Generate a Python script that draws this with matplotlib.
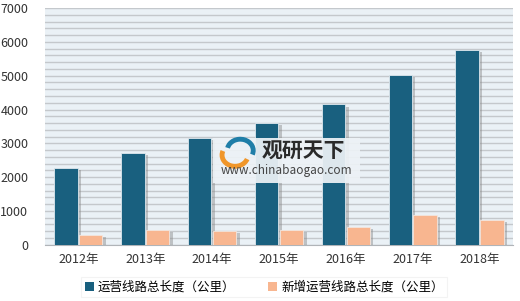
import matplotlib.pyplot as plt
import matplotlib.patheffects as pe
from matplotlib.patches import Arc, Rectangle
import numpy as np

plt.rcParams['font.family'] = ['Noto Sans CJK SC', 'DejaVu Sans']

years = ['2012年', '2013年', '2014年', '2015年', '2016年', '2017年', '2018年']
total_km = [2260, 2720, 3170, 3610, 4150, 5030, 5760]
new_km = [290, 445, 420, 440, 530, 870, 730]
labels = ['运营线路总长度（公里）', '新增运营线路总长度（公里）']

blue = '#19607f'
orange = '#f8b690'

fig = plt.figure(figsize=(5.2, 3.01), dpi=100)
ax = fig.add_axes([0.0865, 0.187, 0.9, 0.786])
ax.set_facecolor('#eaf1f6')

x = np.arange(len(years))
w = 0.35
shadow = [pe.SimplePatchShadow(offset=(2.5, -1.5), shadow_rgbFace='#888888', alpha=0.45), pe.Normal()]
b1 = ax.bar(x - w / 2 - 0.01, total_km, w, color=blue, edgecolor='#dfe8ee', linewidth=0.6,
            label=labels[0], zorder=3)
b2 = ax.bar(x + w / 2 + 0.01, new_km, w, color=orange, edgecolor='#f3e6de', linewidth=0.6,
            label=labels[1], zorder=3)
for bar in list(b1) + list(b2):
    bar.set_path_effects(shadow)

ax.set_xlim(-0.5, len(years) - 0.5)
ax.set_ylim(0, 7000)
ax.set_yticks(np.arange(0, 7001, 1000))
ax.set_yticks(np.arange(0, 7001, 200), minor=True)
ax.grid(True, axis='y', which='both', color='#c4c8cc', linewidth=1.0, zorder=0)
ax.set_axisbelow(True)
ax.set_xticks(x)
ax.set_xticklabels(years, fontsize=9, color='#333333')
ax.tick_params(axis='both', which='both', length=0, labelsize=9, colors='#333333')
ax.tick_params(axis='x', pad=6)
ax.tick_params(axis='y', pad=12)
for s in ['top', 'right', 'left']:
    ax.spines[s].set_visible(False)
ax.spines['bottom'].set_color('#b0b4b8')

leg = fig.legend(handles=[b1, b2], labels=labels, loc='center', ncol=2,
                 bbox_to_anchor=(0.508, 0.046), fontsize=9, frameon=True,
                 fancybox=False, handlelength=0.7, handleheight=0.7,
                 handletextpad=0.35, columnspacing=2.6, borderpad=0.3)
leg.get_frame().set_edgecolor('#f0f0f0')
leg.get_frame().set_linewidth(0.8)
for h in leg.legend_handles:
    h.set_path_effects([])
    h.set_edgecolor('none')

# watermark: translucent backdrop, logo and text
fig.patches.append(Rectangle((0.41, 0.392), 0.283, 0.15, transform=fig.transFigure,
                             facecolor='#edf2f6', alpha=0.93, edgecolor='none', zorder=1))
fig.patches.append(Arc((0.452, 0.485), 0.05, 0.075, theta1=150, theta2=330,
                       transform=fig.transFigure, color='#f0962a', linewidth=3.5, zorder=2))
fig.patches.append(Arc((0.462, 0.5), 0.05, 0.075, theta1=-30, theta2=160,
                       transform=fig.transFigure, color='#1f7ea8', linewidth=3.5, zorder=2))
fig.text(0.503, 0.497, '观研天下', fontsize=15, fontweight='bold', color='#2a2a2a',
         ha='left', va='center', zorder=3)
fig.text(0.424, 0.432, 'www.chinabaogao.com', fontsize=8.5, color='#444444',
         ha='left', va='center', zorder=3)

fig.savefig('out.png', dpi=100)
